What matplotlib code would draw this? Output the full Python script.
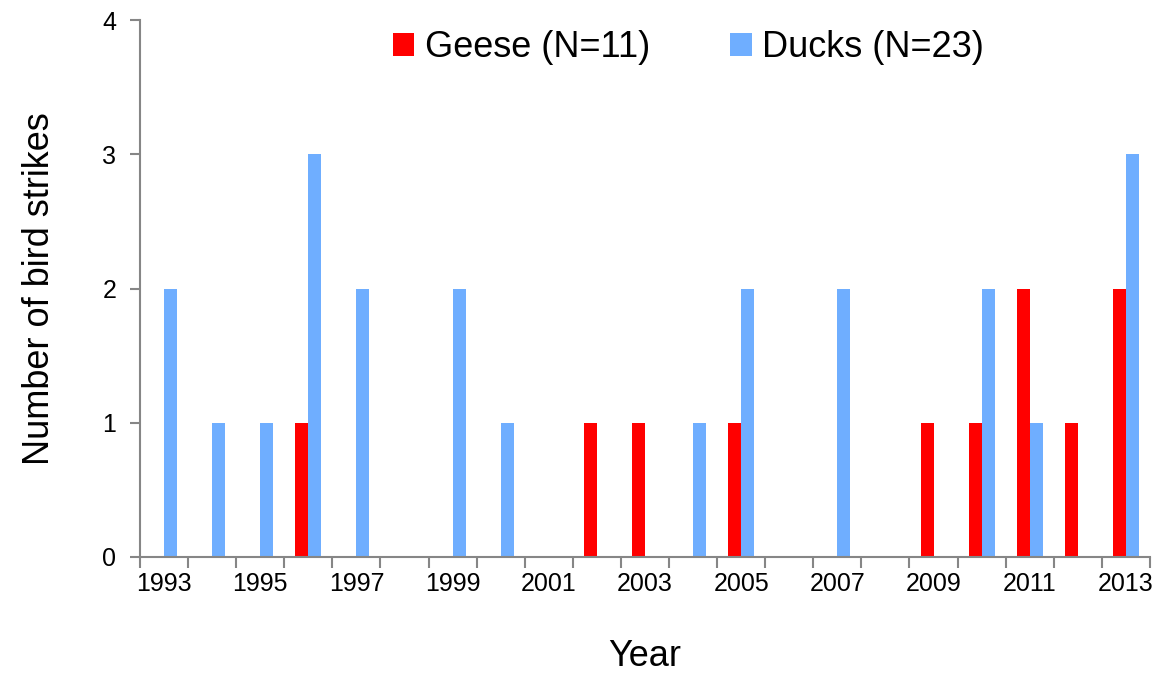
import numpy as np
import matplotlib.pyplot as plt

plt.rcParams['font.family'] = ['Liberation Sans', 'DejaVu Sans']

# data
years = list(range(1993, 2014))
geese = [0, 0, 0, 1, 0, 0, 0, 0, 0, 1, 1, 0, 1, 0, 0, 0, 1, 1, 2, 1, 2]
ducks = [2, 1, 1, 3, 2, 0, 2, 1, 0, 0, 0, 1, 2, 0, 2, 0, 0, 2, 1, 0, 3]

red = '#FF0000'
blue = '#6FAEFF'
axis_col = '#868686'

fig = plt.figure(figsize=(11.59, 6.74), dpi=100)
ax = fig.add_axes([0.1208, 0.1736, 0.8714, 0.7967])

x = np.arange(len(years))
w = 0.27
ax.bar(x - w / 2, geese, w, color=red, label='Geese (N=11)')
ax.bar(x + w / 2, ducks, w, color=blue, label='Ducks (N=23)')

ax.set_xlim(-0.5, len(years) - 0.5)
ax.set_ylim(0, 4)
ax.set_yticks([0, 1, 2, 3, 4])

# tick marks between categories, labels on odd years
ax.set_xticks(np.arange(len(years) + 1) - 0.5)
ax.set_xticklabels([])
ax.set_xticks(x[::2], minor=True)
ax.set_xticklabels([str(y) for y in years[::2]], minor=True)
ax.tick_params(axis='x', which='minor', length=0, labelsize=18, pad=11)
ax.tick_params(axis='x', which='major', length=8, width=1.5, color=axis_col, direction='out')
ax.tick_params(axis='y', length=7, width=1.5, color=axis_col, labelsize=18, pad=10)

for s in ['top', 'right']:
    ax.spines[s].set_visible(False)
for s in ['left', 'bottom']:
    ax.spines[s].set_color(axis_col)
    ax.spines[s].set_linewidth(1.5)

ax.set_xlabel('Year', fontsize=26, labelpad=31)
ax.set_ylabel('Number of bird strikes', fontsize=26, labelpad=33)

fig.legend(loc='center', bbox_to_anchor=(0.594, 0.929), ncol=2, frameon=False,
           fontsize=26, handlelength=0.6, handleheight=0.6, handletextpad=0.3,
           columnspacing=2.2)

plt.savefig('out.png', dpi=100)
